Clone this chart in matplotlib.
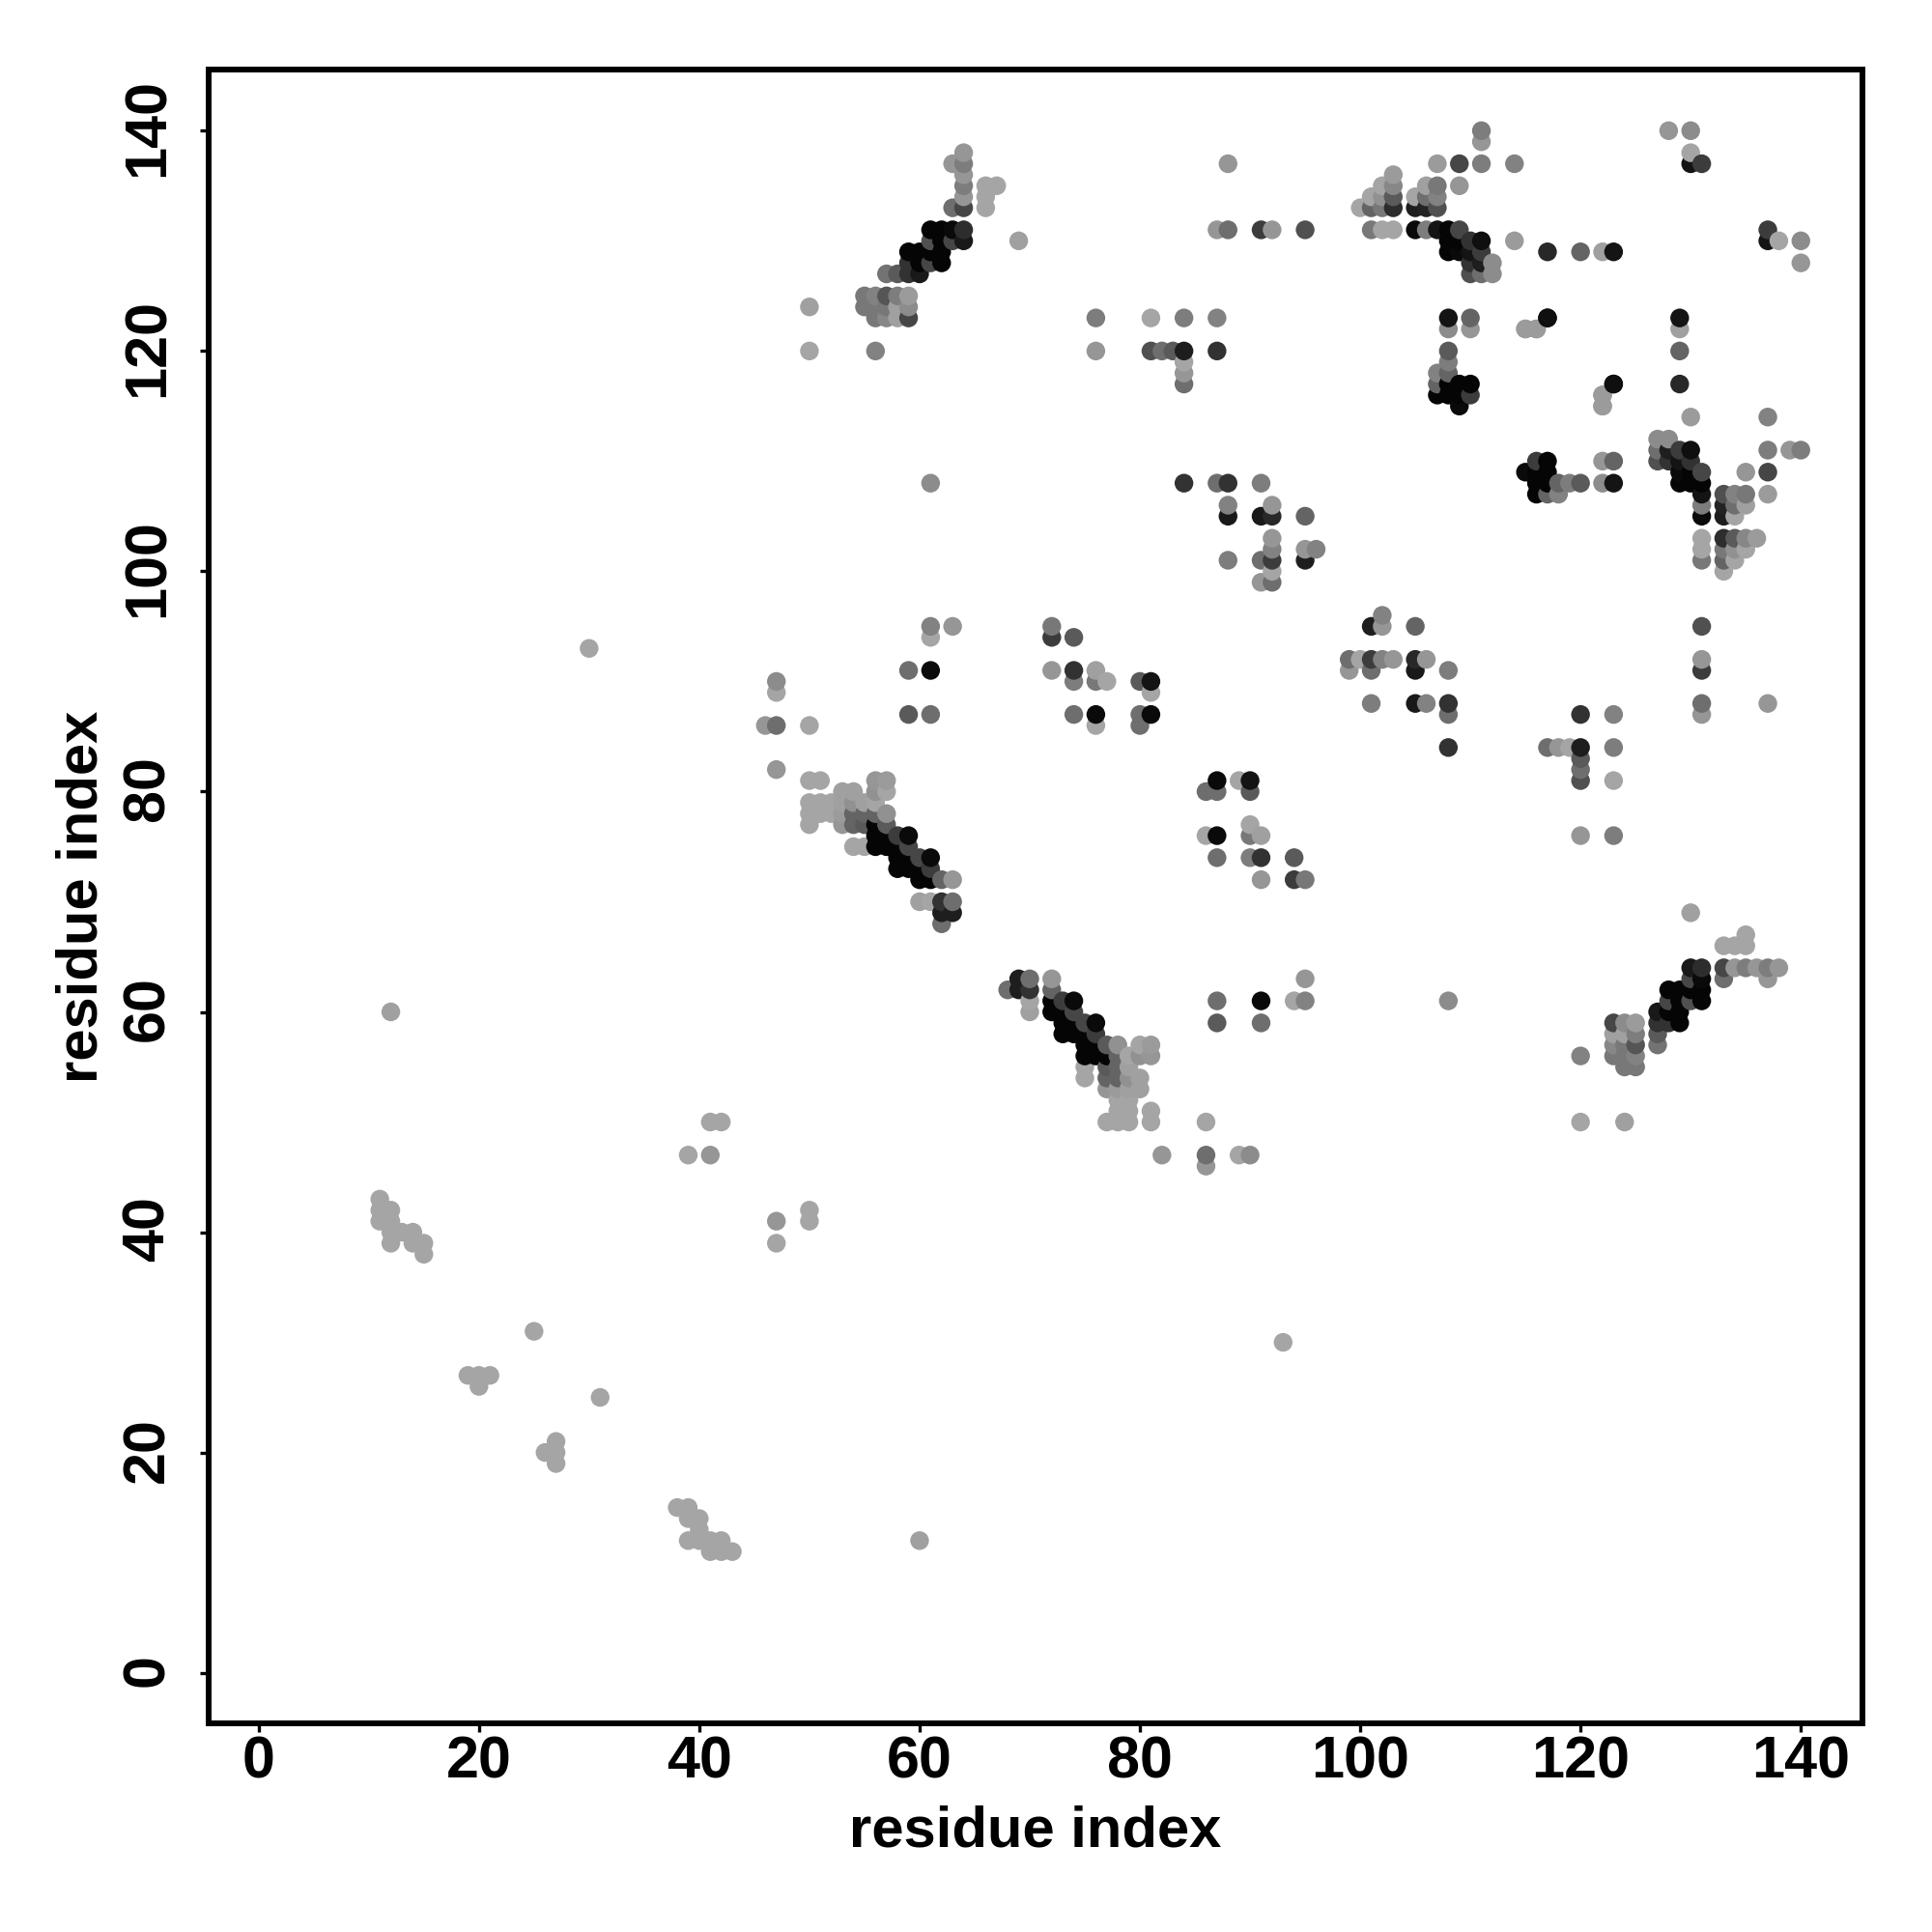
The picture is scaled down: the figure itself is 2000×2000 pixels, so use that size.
import matplotlib
matplotlib.use("Agg")
import matplotlib.pyplot as plt
from matplotlib.transforms import ScaledTranslation

plt.rcParams['font.family'] = ['Liberation Sans', 'DejaVu Sans']

# contacts: (residue i, residue j, grey level); the map is symmetric
contacts_far = [
 (11,41,165),(11,42,165),(11,43,165),(12,39,165),(12,40,165),(12,41,165),(12,42,165),(13,40,165),(14,39,165),(14,40,165),(15,38,165),(15,39,165),
 (12,60,160),(19,27,165),(20,26,165),(20,27,165),(21,27,165),(25,31,165),(30,93,165),
 (39,47,165),(41,47,150),(41,50,165),(42,50,165),
 (47,82,150),(46,86,150),(47,86,110),(47,89,165),(47,90,140),(50,86,165),(50,120,165),(50,124,160),
]
contacts_band_a = [
 (50,81,165),(51,81,165),(50,79,165),(51,79,165),(52,79,165),(50,78,165),(51,78,165),(52,78,165),(50,77,165),
 (53,80,160),(54,80,160),(53,79,160),(54,79,145),(55,79,160),(56,79,165),
 (53,78,155),(54,78,100),(55,78,100),(56,78,100),(57,78,145),
 (53,77,150),(54,77,100),(55,77,90),(56,77,5),(57,77,90),
 (56,81,150),(57,81,155),(56,80,145),(57,80,165),
 (54,75,165),(55,75,165),(56,76,5),(56,75,5),(57,76,5),(57,75,5),(58,76,60),(59,76,10),(58,75,5),(59,75,70),
 (58,74,5),(59,74,5),(60,74,70),(61,74,10),(58,73,5),(59,73,5),(60,73,5),(61,73,60),
 (60,72,5),(61,72,5),(62,72,100),(63,72,150),
 (60,70,160),(61,70,165),(62,70,50),(63,70,110),(62,69,30),(63,69,30),(62,68,110),
]
contacts_band_b = [
 (64,138,150),(63,137,150),(64,137,125),(64,136,150),(64,135,125),(64,134,150),(63,133,110),(64,133,70),
 (66,135,165),(67,135,165),(66,134,165),(66,133,165),(69,130,160),
 (61,131,5),(62,131,5),(63,131,10),(64,131,45),(61,130,80),(62,130,5),(63,130,70),(64,130,25),
 (59,129,5),(60,129,5),(61,129,5),(62,129,5),(59,128,50),(60,128,5),(61,128,70),(62,128,5),
 (57,127,115),(58,127,90),(59,127,50),(60,127,25),
 (55,125,120),(56,125,130),(57,125,85),(58,125,125),(59,125,155),
 (55,124,120),(56,124,120),(57,124,120),(58,124,160),(59,124,140),
 (56,123,120),(57,123,135),(58,123,160),(59,123,70),(56,120,130),
 (61,108,140),(59,91,110),(61,91,10),(59,87,90),(61,87,110),(61,94,165),(61,95,130),(63,95,150),
]
contacts_mid = [
 (76,123,125),(81,123,165),(84,123,125),(76,120,150),(81,120,80),(82,120,110),(83,120,90),(84,120,30),
 (84,119,165),(84,118,150),(84,117,110),(87,123,130),(87,120,50),
 (72,95,120),(72,94,60),(74,94,90),(72,91,150),(74,91,50),(74,90,125),(76,91,160),(76,90,120),(77,90,165),
 (74,87,110),(76,87,10),(76,86,165),(80,90,90),(81,90,20),(81,89,165),(80,87,110),(81,87,10),(80,86,110),
 (84,108,50),(87,108,110),(88,108,50),(91,108,125),(88,106,130),(88,105,25),(91,105,25),(92,105,40),(92,106,150),
 (95,105,100),(92,103,150),(92,102,130),(92,101,60),(91,101,110),(88,101,125),(92,100,165),(92,99,110),(91,99,150),
 (95,102,150),(96,102,130),(95,101,30),
 (87,131,150),(88,131,110),(91,131,60),(92,131,150),(95,131,80),(88,137,150),
]
contacts_top = [
 (111,140,125),(111,139,150),(107,137,155),(109,137,70),(111,137,125),(114,137,130),
 (103,136,155),(102,135,165),(103,135,135),(107,135,120),(106,135,160),(109,135,150),
 (101,134,165),(102,134,145),(103,134,90),(105,134,165),(106,134,110),(107,134,130),
 (100,133,165),(101,133,100),(102,133,120),(103,133,45),(105,133,30),(106,133,35),(107,133,80),
 (101,131,120),(102,131,165),(103,131,165),(105,131,10),(106,131,125),(107,131,20),(108,131,5),(109,131,70),
 (108,130,5),(109,130,5),(110,130,50),(111,130,15),(114,130,155),
 (108,129,5),(109,129,10),(110,129,20),(111,129,60),(117,129,40),(120,129,100),(122,129,160),(123,129,20),
 (110,128,50),(111,128,30),(112,128,140),(110,127,80),(111,127,110),(112,127,140),
 (108,123,20),(110,123,100),(108,122,140),(110,122,150),(117,123,15),(115,122,155),(116,122,155),
 (108,120,90),(108,119,125),(107,118,130),(108,118,100),(107,117,100),(108,117,5),(109,117,5),(110,117,5),
 (107,116,5),(108,116,5),(109,116,5),(110,116,60),(109,115,10),(123,117,10),(122,116,150),(122,115,150),
 (128,140,150),(130,140,140),(130,138,165),(130,137,20),(131,137,60),
]
contacts = contacts_far + contacts_band_a + contacts_band_b + contacts_mid + contacts_top

xticks = [0, 20, 40, 60, 80, 100, 120, 140]

points = set()
for i, j, g in contacts:
    points.add((i, j, g))
    points.add((j, i, g))
points = sorted(points)
xs = [p[0] for p in points]
ys = [p[1] for p in points]
cs = [(p[2] / 255,) * 3 for p in points]

fig = plt.figure(figsize=(20, 20), dpi=100)
ax = fig.add_axes([216.3 / 2000, 1 - 1784 / 2000, (1928 - 216.3) / 2000, (1784 - 72) / 2000])
ax.scatter(xs, ys, s=195, c=cs, edgecolors='none', zorder=3)
ax.set_xlim(-4.51, 145.59)
ax.set_ylim(-4.59, 145.55)
ax.set_xticks(xticks)
ax.set_yticks(xticks)
ax.tick_params(axis='both', length=6.5, width=2.4, labelsize=44)
ax.tick_params(axis='x', pad=2.6)
ax.tick_params(axis='y', pad=18)
for lab in ax.get_xticklabels():
    lab.set_fontweight('bold')
up = ScaledTranslation(0, 3 / 100, fig.dpi_scale_trans)
for lab in ax.get_yticklabels():
    lab.set_fontweight('bold')
    lab.set_rotation(90)
    lab.set_va('center')
    lab.set_transform(lab.get_transform() + up)
for s in ax.spines.values():
    s.set_linewidth(4.3)
ax.set_xlabel('residue index', fontsize=43, fontweight='bold', labelpad=10.7)
ax.set_ylabel('residue index', fontsize=43, fontweight='bold', labelpad=9)
fig.savefig('out.png', dpi=100, facecolor='white')
